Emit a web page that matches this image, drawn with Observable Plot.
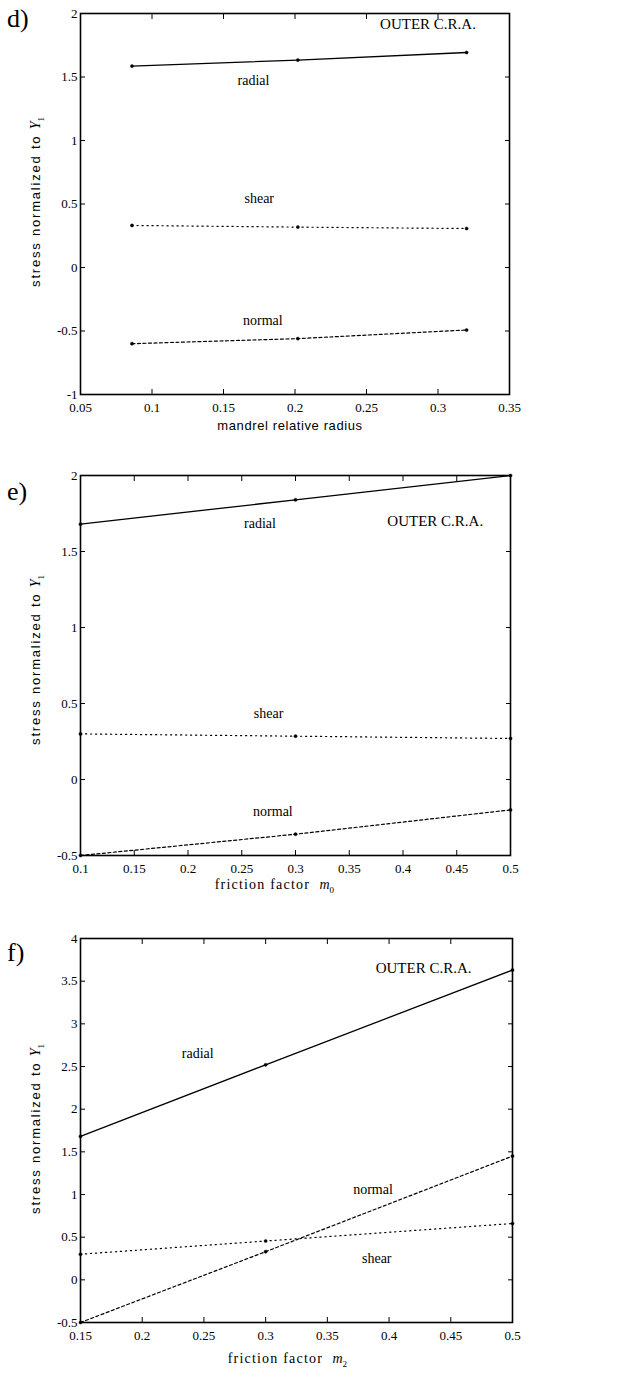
<!DOCTYPE html>
<html><head><meta charset="utf-8">
<script src="https://cdn.jsdelivr.net/npm/d3@7"></script>
<script src="https://cdn.jsdelivr.net/npm/@observablehq/plot@0.6"></script>
<style>
body{margin:0;background:#fff;}
#wrap{position:relative;width:629px;height:1378px;overflow:hidden;background:#fff;font-family:"Liberation Serif",serif;color:#000;}
#wrap g[aria-label$="tick label"]{font-family:"Liberation Serif",serif;font-size:13px;}
.panel{position:absolute;left:0;}
.letter{position:absolute;left:7px;font-size:26px;line-height:26px;font-family:"Liberation Serif",serif;}
.ylab{position:absolute;white-space:nowrap;transform:translate(-50%,-50%) rotate(-90deg);font-family:"Liberation Sans",sans-serif;font-size:13px;letter-spacing:1.8px;}
.ylab i{font-family:"Liberation Serif",serif;font-size:14px;letter-spacing:0;}
.ylab sub{font-family:"Liberation Serif",serif;font-size:9px;}
.xlab{position:absolute;white-space:nowrap;transform:translate(-50%,-50%);}
.xlab.sans{font-family:"Liberation Sans",sans-serif;font-size:13px;letter-spacing:0.6px;}
.xlab.serif{font-family:"Liberation Serif",serif;font-size:14px;letter-spacing:1.2px;}
.xlab i{letter-spacing:0;}
.xlab sub{font-size:9px;font-style:normal;}
</style>
</head><body>
<div id="wrap"></div>
<script>
// ---------- data ----------
const seriesNames = ["radial", "shear", "normal"];

// panel d : mandrel relative radius
const dX = [0.086, 0.202, 0.32];
const dRadial = [1.586, 1.633, 1.693];
const dShear = [0.331, 0.318, 0.307];
const dNormal = [-0.6, -0.56, -0.492];
const dXTicks = [0.05, 0.1, 0.15, 0.2, 0.25, 0.3, 0.35];
const dYTicks = [-1, -0.5, 0, 0.5, 1, 1.5, 2];

// panel e : friction factor m0
const eX = [0.1, 0.3, 0.5];
const eRadial = [1.68, 1.84, 2.0];
const eShear = [0.3, 0.285, 0.27];
const eNormal = [-0.5, -0.36, -0.2];
const eXTicks = [0.1, 0.15, 0.2, 0.25, 0.3, 0.35, 0.4, 0.45, 0.5];
const eYTicks = [-0.5, 0, 0.5, 1, 1.5, 2];

// panel f : friction factor m2
const fX = [0.15, 0.3, 0.5];
const fRadial = [1.68, 2.52, 3.63];
const fShear = [0.3, 0.455, 0.66];
const fNormal = [-0.5, 0.33, 1.45];
const fXTicks = [0.15, 0.2, 0.25, 0.3, 0.35, 0.4, 0.45, 0.5];
const fYTicks = [-0.5, 0, 0.5, 1, 1.5, 2, 2.5, 3, 3.5, 4];

// in-plot annotations (data coordinates)
const dNotes = [
  {text: "OUTER C.R.A.", x: 0.293, y: 1.913},
  {text: "radial", x: 0.171, y: 1.47},
  {text: "shear", x: 0.175, y: 0.54},
  {text: "normal", x: 0.1775, y: -0.414}
];
const eNotes = [
  {text: "OUTER C.R.A.", x: 0.430, y: 1.70},
  {text: "radial", x: 0.267, y: 1.686},
  {text: "shear", x: 0.275, y: 0.434},
  {text: "normal", x: 0.279, y: -0.208}
];
const fNotes = [
  {text: "OUTER C.R.A.", x: 0.428, y: 3.65},
  {text: "radial", x: 0.245, y: 2.65},
  {text: "normal", x: 0.387, y: 1.06},
  {text: "shear", x: 0.39, y: 0.25}
];

// ---------- styling ----------
const dash = {radial: null, shear: "1.2,3.8", normal: "3,2.5"};
const fmt = d => String(+d.toFixed(2));
const blank = () => "";

function rowsOf(xs, vals) {
  const out = [];
  seriesNames.forEach((s, i) => xs.forEach((x, j) => out.push({s, x, y: vals[i][j]})));
  return out;
}

function panel({xDomain, yDomain, xTicks, yTicks, rows, notes, height, mt, mb, mr}) {
  const tf = {fontSize: 13, fontFamily: "Liberation Serif, serif"};
  const marks = [
    Plot.axisX(xTicks, {anchor: "bottom", tickSize: 0, tickPadding: 8, tickFormat: fmt, label: null, ...tf}),
    Plot.axisX(xTicks, {anchor: "bottom", tickSize: -5, tickFormat: blank, label: null}),
    Plot.axisX(xTicks, {anchor: "top", tickSize: -5, tickFormat: blank, label: null}),
    Plot.axisY(yTicks, {anchor: "left", tickSize: 0, tickPadding: 3, tickFormat: fmt, label: null, ...tf}),
    Plot.axisY(yTicks, {anchor: "left", tickSize: -5, tickFormat: blank, label: null}),
    Plot.axisY(yTicks, {anchor: "right", tickSize: -5, tickFormat: blank, label: null}),
    Plot.frame({stroke: "black", strokeWidth: 1.6})
  ];
  seriesNames.forEach(s => {
    marks.push(Plot.line(rows.filter(r => r.s === s), {
      x: "x", y: "y", stroke: "black", strokeWidth: s === "radial" ? 1.3 : 1.2,
      strokeDasharray: dash[s]
    }));
  });
  marks.push(Plot.dot(rows, {x: "x", y: "y", r: 1.6, fill: "black", stroke: "black", strokeWidth: 0.4}));
  marks.push(Plot.text(notes, {x: "x", y: "y", text: "text",
    fontSize: d => d.text.startsWith("OUTER") ? 15 : 14,
    fontFamily: "Liberation Serif, serif",
    fill: "black"}));
  return Plot.plot({
    width: 629, height,
    marginLeft: 80, marginRight: mr, marginTop: mt, marginBottom: mb,
    x: {domain: xDomain},
    y: {domain: yDomain},
    style: {fontFamily: "Liberation Serif, serif", fontSize: "13px", background: "white", color: "black"},
    marks
  });
}

const wrap = document.getElementById("wrap");
function place(node, top) {
  const div = document.createElement("div");
  div.className = "panel";
  div.style.top = top + "px";
  div.appendChild(node);
  wrap.appendChild(div);
}

place(panel({xDomain: [0.05, 0.35], yDomain: [-1, 2], xTicks: dXTicks, yTicks: dYTicks,
  rows: rowsOf(dX, [dRadial, dShear, dNormal]), notes: dNotes,
  height: 440, mt: 13, mb: 46, mr: 120}), 0);
place(panel({xDomain: [0.1, 0.5], yDomain: [-0.5, 2], xTicks: eXTicks, yTicks: eYTicks,
  rows: rowsOf(eX, [eRadial, eShear, eNormal]), notes: eNotes,
  height: 460, mt: 35, mb: 45, mr: 119}), 440);
place(panel({xDomain: [0.15, 0.5], yDomain: [-0.5, 4], xTicks: fXTicks, yTicks: fYTicks,
  rows: rowsOf(fX, [fRadial, fShear, fNormal]), notes: fNotes,
  height: 478, mt: 38, mb: 56, mr: 117}), 900);

// ---------- panel letters, axis titles ----------
function addHTML(cls, html, css) {
  const el = document.createElement("div");
  el.className = cls;
  el.innerHTML = html;
  Object.assign(el.style, css);
  wrap.appendChild(el);
}
addHTML("letter", "d)", {top: "6px"});
addHTML("letter", "e)", {top: "479px"});
addHTML("letter", "f)", {top: "940px"});

const yTitle = 'stress normalized to <i>Y</i><sub>1</sub>';
addHTML("ylab", yTitle, {left: "37px", top: "201px"});
addHTML("ylab", yTitle, {left: "37px", top: "659px"});
addHTML("ylab", yTitle, {left: "37px", top: "1128px"});

addHTML("xlab sans", "mandrel relative radius", {left: "290px", top: "425px"});
addHTML("xlab serif", 'friction factor&nbsp; <i>m</i><sub>0</sub>', {left: "275px", top: "886px"});
addHTML("xlab serif", 'friction factor&nbsp; <i>m</i><sub>2</sub>', {left: "288px", top: "1360px"});
</script>
</body></html>
